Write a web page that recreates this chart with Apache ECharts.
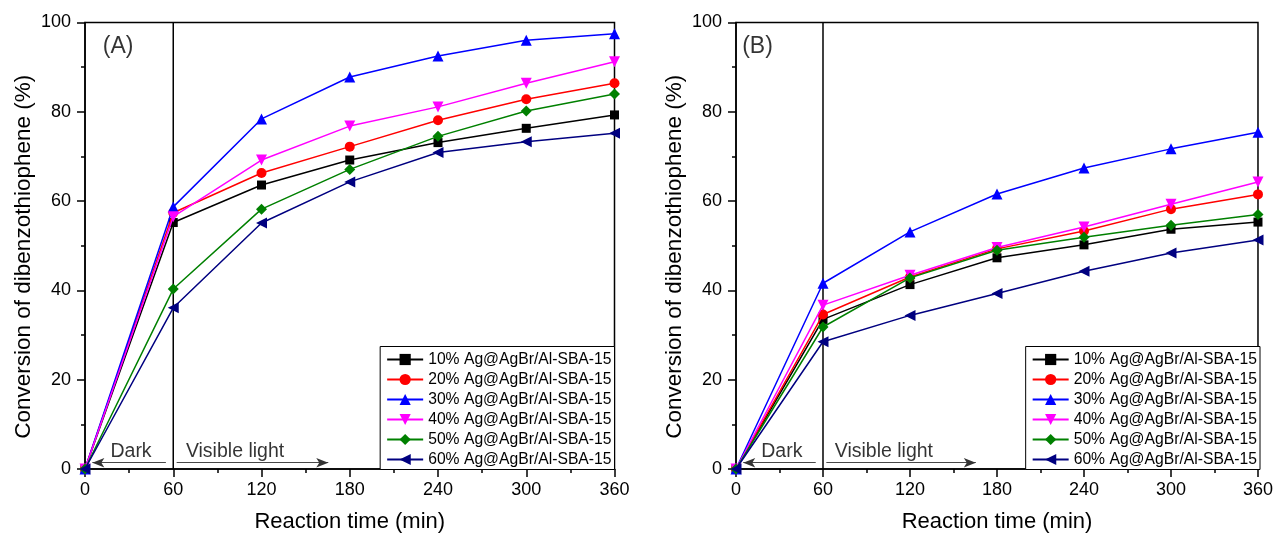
<!DOCTYPE html>
<html>
<head>
<meta charset="utf-8">
<script src="https://cdn.jsdelivr.net/npm/echarts@6/dist/echarts.min.js"></script>
<style>
html,body{margin:0;padding:0;background:#fff;}
#chart{width:1276px;height:538px;}
</style>
</head>
<body>
<div id="chart"></div>
<script>
// ---- data ----
const time = [0, 60, 120, 180, 240, 300, 360];
const names = ['10% Ag@AgBr/Al-SBA-15','20% Ag@AgBr/Al-SBA-15','30% Ag@AgBr/Al-SBA-15','40% Ag@AgBr/Al-SBA-15','50% Ag@AgBr/Al-SBA-15','60% Ag@AgBr/Al-SBA-15'];
// Panel A
const a10 = [0, 55.2, 63.6, 69.2, 73.1, 76.3, 79.3];
const a20 = [0, 57.4, 66.3, 72.2, 78.1, 82.8, 86.4];
const a30 = [0, 58.7, 78.4, 87.8, 92.5, 96.0, 97.5];
const a40 = [0, 56.5, 69.2, 76.8, 81.1, 86.4, 91.2];
const a50 = [0, 40.3, 58.2, 67.1, 74.5, 80.2, 84.0];
const a60 = [0, 36.1, 55.1, 64.3, 70.9, 73.3, 75.2];
// Panel B
const b10 = [0, 33.5, 41.3, 47.3, 50.2, 53.7, 55.3];
const b20 = [0, 34.6, 43.0, 49.3, 53.3, 58.2, 61.5];
const b30 = [0, 41.6, 53.1, 61.6, 67.4, 71.7, 75.4];
const b40 = [0, 36.7, 43.4, 49.6, 54.2, 59.3, 64.3];
const b50 = [0, 31.8, 42.8, 49.0, 51.9, 54.6, 57.0];
const b60 = [0, 28.5, 34.4, 39.3, 44.3, 48.4, 51.3];
// tick settings
const xTicks = {min: 0, max: 360, interval: 60};
const yTicks = {min: 0, max: 100, interval: 20};
// annotations (data units)
const switchLine = [[60, 0], [60, 100]];
const darkArrow = [[55, 1.4], [5, 1.4]];
const lightArrow = [[62.3, 1.4], [165.4, 1.4]];
const phaseLabelsA = [[31.3, 3.9, 'Dark'], [102, 3.9, 'Visible light']];
const phaseLabelsB = [[31.6, 3.9, 'Dark'], [102, 3.9, 'Visible light']];
const panelLabelA = [[22.5, 94.5, '(A)']];
const panelLabelB = [[14.8, 94.5, '(B)']];

// ---- styling ----
const FONT = 'Liberation Sans, Arial, sans-serif';
const colors = ['#000000', '#ff0000', '#0000ff', '#ff00ff', '#008000', '#000080'];
const symbols = ['rect', 'circle', 'triangle', 'triangle', 'diamond', 'triangle'];
const rotates = [0, 0, 0, 180, 0, 90];
const sizes = [9, 10, 11, 11, 11, 11];

function pairs(ys) { return time.map((t, i) => [t, ys[i]]); }

function xAxisCfg(gi) {
  return {
    type: 'value', gridIndex: gi, min: xTicks.min, max: xTicks.max, interval: xTicks.interval,
    name: 'Reaction time (min)', nameLocation: 'middle', nameGap: 42,
    nameTextStyle: {fontFamily: FONT, fontSize: 22, color: '#000'},
    axisLine: {show: true, lineStyle: {color: '#000', width: 1.5}},
    axisTick: {show: true, inside: false, length: 8, lineStyle: {color: '#000', width: 1.5}},
    minorTick: {show: true, splitNumber: 2, length: 4, lineStyle: {color: '#000', width: 1.5}},
    axisLabel: {fontFamily: FONT, fontSize: 18, color: '#000', margin: 12},
    splitLine: {show: false}
  };
}
function yAxisCfg(gi) {
  return {
    type: 'value', gridIndex: gi, min: yTicks.min, max: yTicks.max, interval: yTicks.interval,
    name: 'Conversion of dibenzothiophene (%)', nameLocation: 'middle', nameGap: 50,
    nameTextStyle: {fontFamily: FONT, fontSize: 22.5, color: '#000', padding: [0, 22, 0, 0]},
    axisLine: {show: true, lineStyle: {color: '#000', width: 1.5}},
    axisTick: {show: true, inside: false, length: 8, lineStyle: {color: '#000', width: 1.5}},
    minorTick: {show: true, splitNumber: 2, length: 4, lineStyle: {color: '#000', width: 1.5}},
    axisLabel: {fontFamily: FONT, fontSize: 18, color: '#000', margin: 14},
    splitLine: {show: false}
  };
}

function panelSeries(gi, sets, phaseLabels, panelLabel) {
  const out = sets.map((ys, i) => ({
    name: names[i], type: 'line', xAxisIndex: gi, yAxisIndex: gi,
    data: pairs(ys), symbol: symbols[i], symbolRotate: rotates[i], symbolSize: sizes[i],
    lineStyle: {color: colors[i], width: 1.5}, itemStyle: {color: colors[i]},
    z: 3 + i, animation: false
  }));
  out.push({
    type: 'line', xAxisIndex: gi, yAxisIndex: gi, data: switchLine, symbol: 'none',
    lineStyle: {color: '#000', width: 1.5}, silent: true, animation: false, z: 2,
    markLine: {
      silent: true, animation: false, symbol: ['none', 'arrow'], symbolSize: [7, 12],
      label: {show: false},
      lineStyle: {color: '#333', width: 0.9, type: 'solid'},
      data: [
        [{coord: darkArrow[0]}, {coord: darkArrow[1]}],
        [{coord: lightArrow[0]}, {coord: lightArrow[1]}]
      ]
    }
  });
  out.push({
    type: 'scatter', xAxisIndex: gi, yAxisIndex: gi, data: phaseLabels, symbolSize: 1,
    itemStyle: {color: 'rgba(0,0,0,0)'}, silent: true, animation: false,
    label: {show: true, position: 'inside', formatter: p => p.value[2], color: '#000', fontFamily: FONT, fontSize: 19.5}
  });
  out.push({
    type: 'scatter', xAxisIndex: gi, yAxisIndex: gi, data: panelLabel, symbolSize: 1,
    itemStyle: {color: 'rgba(0,0,0,0)'}, silent: true, animation: false,
    label: {show: true, position: 'inside', formatter: p => p.value[2], color: '#000', fontFamily: FONT, fontSize: 23}
  });
  return out;
}

function legendCfg(right) {
  return {
    data: names, orient: 'vertical', right: right, top: 346.5,
    itemWidth: 36, itemHeight: 14, itemGap: 0,
    padding: [3, 3, 0, 6], borderColor: '#000', borderWidth: 1, backgroundColor: '#fff',
    textStyle: {fontFamily: FONT, fontSize: 15.7, color: '#000', lineHeight: 20},
    selectedMode: false
  };
}

const chart = echarts.init(document.getElementById('chart'), null, {renderer: 'canvas'});
chart.setOption({
  backgroundColor: '#fff',
  animation: false,
  grid: [
    {left: 85, right: 661.5, top: 22.5, bottom: 68.7, show: true, borderColor: '#000', borderWidth: 1.5, backgroundColor: 'transparent'},
    {left: 736, right: 16, top: 22.5, bottom: 68.7, show: true, borderColor: '#000', borderWidth: 1.5, backgroundColor: 'transparent'}
  ],
  xAxis: [xAxisCfg(0), xAxisCfg(1)],
  yAxis: [yAxisCfg(0), yAxisCfg(1)],
  legend: [legendCfg(661.5), legendCfg(16)],
  series: [].concat(
    panelSeries(0, [a10, a20, a30, a40, a50, a60], phaseLabelsA, panelLabelA),
    panelSeries(1, [b10, b20, b30, b40, b50, b60], phaseLabelsB, panelLabelB)
  )
});
</script>
</body>
</html>
